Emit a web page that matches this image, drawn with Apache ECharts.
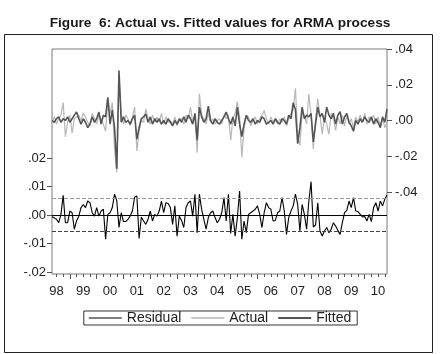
<!DOCTYPE html>
<html>
<head>
<meta charset="utf-8">
<script src="https://cdn.jsdelivr.net/npm/echarts@6/dist/echarts.min.js"></script>
<style>
  html, body { margin: 0; padding: 0; background: #fff; }
  #main { width: 440px; height: 354px; }
</style>
</head>
<body>
<div id="main"></div>
<script>
// monthly sample, 1998M05 .. 2010M11
var startYear = 1998, startMonth = 5;

var actual = [
  -0.001, 0.002, -0.002, 0.001, 0.003, 0.010, -0.009, -0.001, 0.003, -0.007,
  0.001, 0.002, 0.003, 0.000, 0.004, 0.002, -0.001, -0.003, 0.004, 0.001,
  -0.002, 0.003, 0.001, -0.002, -0.006, 0.012, 0.004, 0.010, -0.016, -0.029,
  0.025, 0.004, -0.002, 0.003, 0.001, -0.003, 0.002, 0.0075, -0.017, -0.006,
  0.000, -0.001, 0.0065, 0.001, -0.002, 0.003, -0.001, 0.002, -0.001, 0.004,
  -0.002, 0.002, -0.001, 0.000, -0.002, 0.002, -0.003, 0.000, 0.001, -0.002,
  0.003, 0.001, 0.0075, -0.001, 0.002, -0.018, 0.015, 0.003, 0.001, -0.002,
  0.004, -0.001, 0.001, -0.002, 0.000, 0.001, -0.002, 0.003, 0.001, 0.003,
  -0.011, 0.001, 0.004, 0.0105, 0.002, -0.0205, -0.004, 0.002, 0.002, -0.003,
  0.000, 0.002, -0.002, 0.001, 0.003, 0.0056, 0.001, -0.002, 0.002, -0.001,
  0.001, -0.002, 0.001, -0.001, 0.002, -0.003, 0.001, 0.004, 0.006, 0.018,
  -0.008, -0.014, 0.004, 0.003, -0.002, 0.015, 0.003, -0.016, 0.001, 0.012,
  0.003, -0.0077, 0.002, -0.002, -0.0077, 0.004, 0.001, -0.0056, 0.002, -0.002,
  0.003, -0.003, 0.003, -0.002, 0.001, -0.004, 0.002, -0.001, 0.003, -0.001,
  0.004, -0.002, 0.002, 0.000, 0.003, -0.002, 0.002, -0.003, 0.001, -0.004,
  -0.001
];

var fitted = [
  0.000, -0.001, 0.001, 0.002, -0.001, 0.001, 0.000, 0.002, -0.001, 0.001,
  0.003, 0.0047, 0.001, -0.002, 0.001, -0.001, -0.004, -0.002, 0.002, -0.001,
  0.001, 0.0047, -0.002, 0.003, 0.002, 0.013, -0.002, 0.006, -0.004, -0.027,
  0.028, -0.001, 0.002, -0.001, 0.000, -0.002, 0.001, 0.003, -0.0105, -0.004,
  0.001, 0.002, 0.0037, -0.001, 0.002, -0.002, 0.001, -0.001, 0.001, -0.002,
  0.000, -0.002, 0.001, -0.001, -0.003, 0.000, -0.002, 0.001, -0.001, 0.002,
  -0.001, 0.003, 0.001, -0.002, 0.004, -0.011, 0.0075, 0.002, -0.001, 0.001,
  0.008, 0.000, -0.002, 0.001, -0.001, -0.002, 0.000, 0.002, 0.0047, 0.001,
  -0.002, 0.002, -0.003, 0.0075, -0.002, -0.009, -0.002, 0.003, 0.000, -0.001,
  0.001, -0.002, 0.000, -0.001, 0.002, 0.001, -0.002, -0.001, 0.000, -0.002,
  0.001, -0.001, -0.002, 0.001, 0.000, -0.002, 0.003, 0.001, 0.010, 0.006,
  -0.013, -0.004, 0.0075, 0.001, 0.003, 0.002, 0.004, -0.012, -0.002, 0.0075,
  0.002, 0.004, -0.001, 0.0075, 0.003, 0.001, 0.004, -0.002, 0.003, 0.005,
  -0.002, 0.002, 0.004, -0.001, -0.003, -0.006, 0.000, -0.002, 0.001, -0.001,
  0.002, 0.000, -0.001, 0.002, -0.002, 0.001, -0.001, -0.004, 0.002, -0.001,
  0.0065
];

var residual = [
  -0.0006, -0.001, -0.0015, -0.0027, 0.0002, 0.0069, -0.0027, -0.0027, 0.0014, 0.0008,
  -0.005, -0.002, -0.0004, 0.0026, 0.0037, 0.0026, 0.0049, 0.0043, 0.0008, -0.0004,
  0.0026, -0.0004, 0.0014, 0.002, -0.0085, 0.0002, 0.0008, 0.0026, 0.0073, 0.005,
  -0.0044, 0.0008, -0.0023, -0.0023, -0.0015, -0.0004, 0.0014, 0.0063, 0.0067, -0.0082,
  -0.0007, -0.0021, -0.0033, -0.0015, 0.0014, -0.0021, 0.0002, -0.0004, 0.0014, 0.0049,
  0.0008, 0.0043, 0.004, 0.0026, -0.0033, 0.0032, -0.0074, -0.0004, -0.0019, -0.0044,
  0.0026, 0.0043, 0.0049, -0.0004, 0.0073, -0.0062, 0.0073, 0.002, -0.0015, -0.005,
  -0.0009, 0.0008, 0.0014, -0.0009, -0.0027, -0.0015, 0.0008, 0.0061, -0.0021, 0.0073,
  -0.0065, 0.0002, -0.0074, -0.0009, 0.0084, -0.0085, -0.0021, -0.0062, 0.0002, 0.0008,
  0.0014, 0.002, 0.0032, 0.0002, -0.0044, 0.0008, 0.0043, 0.0026, 0.002, -0.0021,
  -0.0019, 0.0008, 0.0014, 0.0061, 0.0014, -0.0068, -0.0009, 0.0014, 0.0032, 0.0073,
  0.0037, -0.0056, 0.0037, 0.0002, -0.005, 0.0049, 0.0117, -0.0042, -0.0035, 0.0043,
  -0.0056, -0.0074, -0.0056, -0.0044, -0.0062, -0.005, -0.0027, -0.0039, -0.0054, -0.0068,
  -0.0027, 0.0008, 0.0016, 0.0049, 0.0026, 0.0061, 0.0014, 0.0012, 0.0002, -0.0007,
  -0.0005, -0.0021, 0.0002, -0.0023, 0.0026, 0.0043, 0.0014, 0.0049, 0.0032, 0.0055,
  0.007
];

// +/- one standard error band of the residual
var seBand = [0.0058, -0.0058];

var months = [];
for (var k = 0; k < actual.length; k++) {
    var m = startMonth - 1 + k;
    months.push((startYear + Math.floor(m / 12)) + 'M' + String(m % 12 + 1).padStart(2, '0'));
}

var font = 'Liberation Sans';
var L = 52, R = 53;

function decLabel(v) {
    return (v < 0 ? '-' : '') + Math.abs(v).toFixed(2).slice(1);
}

var myChart = echarts.init(document.getElementById('main'));

myChart.setOption({
    animation: false,
    backgroundColor: '#fff',
    title: {
        text: 'Figure  6: Actual vs. Fitted values for ARMA process',
        left: 'center',
        top: 11,
        textStyle: { fontFamily: font, fontSize: 13.7, fontWeight: 'bold', color: '#1a1a1a' }
    },
    graphic: [{
        type: 'rect',
        shape: { x: 4.5, y: 34.5, width: 428, height: 318 },
        style: { fill: 'none', stroke: '#222', lineWidth: 1 },
        silent: true
    }],
    legend: {
        data: [
            { name: 'Residual', icon: 'path://M0,0H33V1H0Z' },
            { name: 'Actual', icon: 'path://M0,0H33V1.5H0Z' },
            { name: 'Fitted', icon: 'path://M0,0H33V2.2H0Z' }
        ],
        left: 'center',
        top: 311,
        itemWidth: 33,
        itemHeight: 14,
        itemGap: 10,
        padding: [0, 6, 0, 5],
        borderColor: '#333',
        borderWidth: 1,
        textStyle: { fontFamily: font, fontSize: 14, color: '#222' }
    },
    grid: [
        { left: L, right: R, top: 49, height: 143 },
        { left: L, right: R, top: 158, height: 114 },
        { left: L, right: R, top: 49, height: 225, show: true, borderColor: '#7a7a7a', borderWidth: 1 }
    ],
    xAxis: [
        { type: 'category', gridIndex: 0, data: months, boundaryGap: false, show: false },
        { type: 'category', gridIndex: 1, data: months, boundaryGap: false, show: false },
        {
            type: 'category', gridIndex: 2, data: months, boundaryGap: false, position: 'bottom',
            axisLine: { show: false },
            axisTick: {
                length: 5,
                interval: function (i, v) { return v.slice(4) === 'M01'; },
                lineStyle: { color: '#555' }
            },
            axisLabel: {
                interval: function (i, v) { return v.slice(4) === 'M07'; },
                formatter: function (v) { return v.slice(2, 4); },
                margin: 11,
                fontFamily: font, fontSize: 13, color: '#222'
            }
        },
        {
            type: 'category', gridIndex: 2, data: months, boundaryGap: false, position: 'bottom',
            axisLine: { show: false },
            axisTick: {
                length: 3,
                interval: function (i, v) { return /M(04|07|10)$/.test(v); },
                lineStyle: { color: '#555' }
            },
            axisLabel: { show: false }
        }
    ],
    yAxis: [
        {
            type: 'value', gridIndex: 0, position: 'right',
            min: -0.04, max: 0.04, interval: 0.02,
            axisLine: { show: false },
            axisTick: { show: true, length: 5, lineStyle: { color: '#555' } },
            splitLine: { show: false },
            axisLabel: { formatter: decLabel, margin: 8, fontFamily: font, fontSize: 13, color: '#222' }
        },
        {
            type: 'value', gridIndex: 1, position: 'left',
            min: -0.02, max: 0.02, interval: 0.01,
            axisLine: { show: false },
            axisTick: { show: true, length: 5, lineStyle: { color: '#555' } },
            splitLine: { show: false },
            axisLabel: { formatter: decLabel, margin: 6, fontFamily: font, fontSize: 13, color: '#222' }
        },
        { type: 'value', gridIndex: 2, show: false, splitLine: { show: false } }
    ],
    series: [
        {
            name: 'Actual', type: 'line', xAxisIndex: 0, yAxisIndex: 0,
            data: actual, symbol: 'none',
            lineStyle: { color: '#b8b8b8', width: 1.2 },
            itemStyle: { color: '#b8b8b8' }
        },
        {
            name: 'Fitted', type: 'line', xAxisIndex: 0, yAxisIndex: 0,
            data: fitted, symbol: 'none',
            lineStyle: { color: '#555', width: 1.6 },
            itemStyle: { color: '#555' }
        },
        {
            name: 'Residual', type: 'line', xAxisIndex: 1, yAxisIndex: 1,
            data: residual, symbol: 'none',
            lineStyle: { color: '#000', width: 1.1 },
            itemStyle: { color: '#000' },
            markLine: {
                silent: true,
                symbol: 'none',
                precision: 5,
                label: { show: false },
                data: [
                    { yAxis: 0, lineStyle: { color: '#000', type: 'solid', width: 1 } },
                    { yAxis: seBand[0], lineStyle: { color: '#999', type: 'dashed', width: 1 } },
                    { yAxis: seBand[1], lineStyle: { color: '#444', type: 'dashed', width: 1 } }
                ]
            }
        }
    ]
});

window.addEventListener('resize', function () {
    myChart.resize();
});
</script>
</body>
</html>
